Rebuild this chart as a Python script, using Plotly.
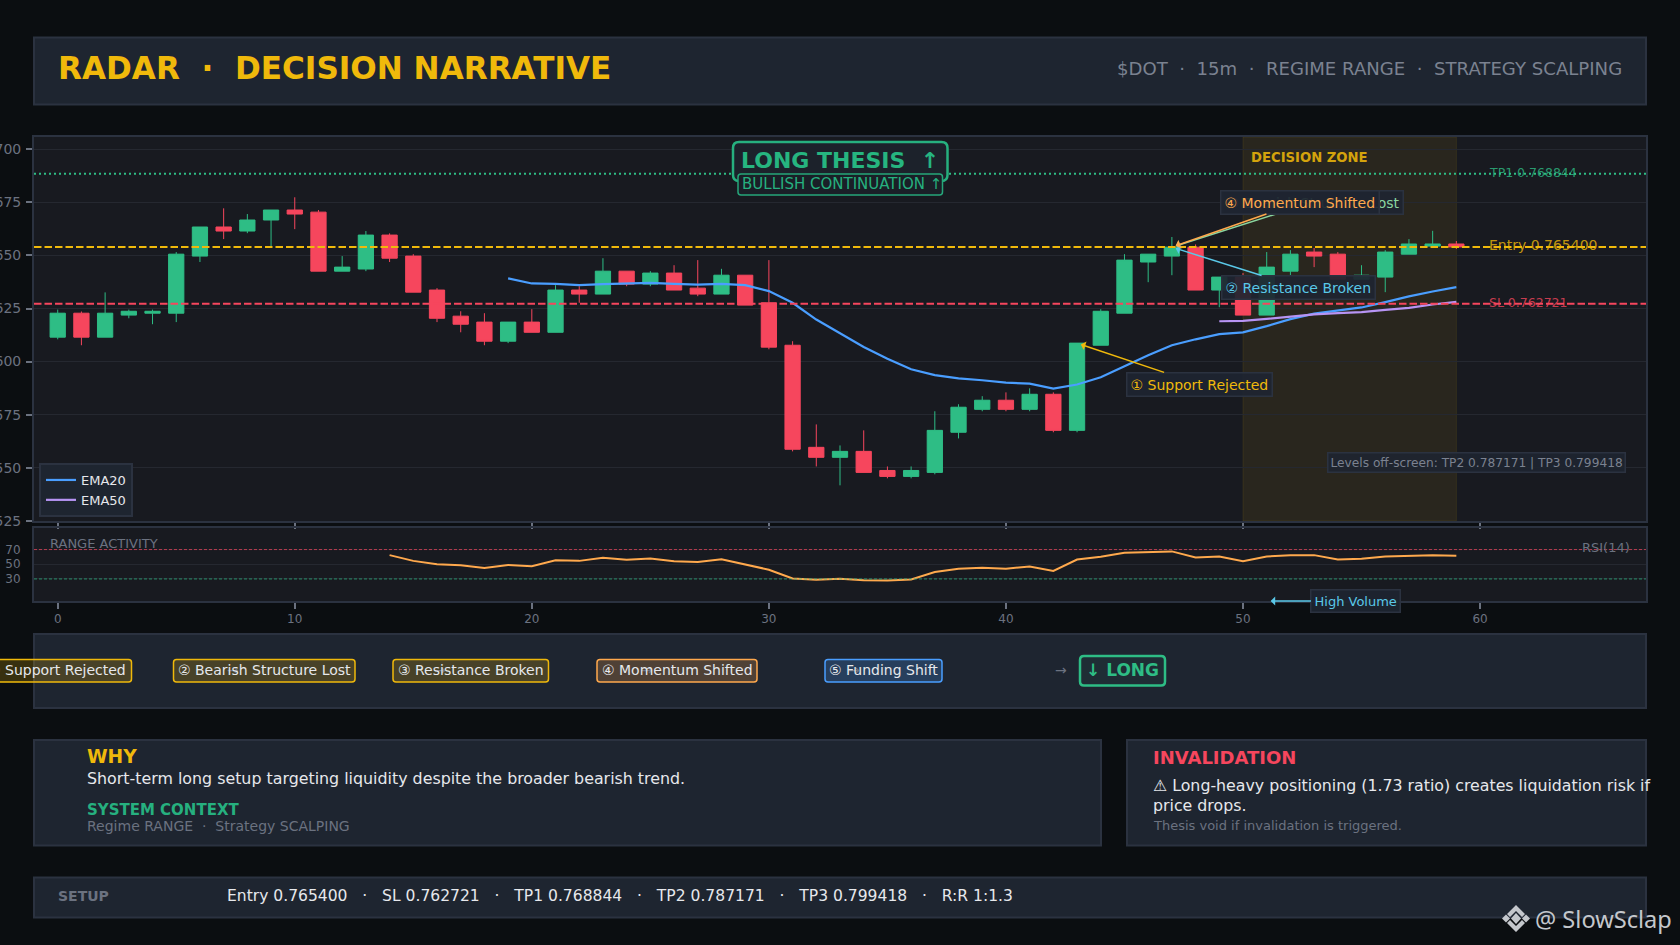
import plotly.graph_objects as go

W = 1680
H = 945

# candles
candle_open = [0.76115, 0.76228, 0.76115, 0.76219, 0.76228, 0.76228, 0.76497, 0.76634, 0.76615, 0.76667,
               0.76714, 0.76704, 0.76426, 0.76436, 0.76596, 0.76497, 0.76337, 0.76214, 0.76186, 0.76096,
               0.76186, 0.76138, 0.76337, 0.76318, 0.76426, 0.76365, 0.76417, 0.76346, 0.76318, 0.76407,
               0.76277, 0.76077, 0.75596, 0.75549, 0.75577, 0.75487, 0.75459, 0.75478, 0.75667, 0.75775,
               0.75818, 0.75775, 0.75846, 0.75676, 0.76077, 0.76228, 0.76469, 0.76497, 0.76539, 0.76337,
               0.76398, 0.76219, 0.76426, 0.76516, 0.76506, 0.76388, 0.76398, 0.76506, 0.76544, 0.76554]
candle_high = [0.76245, 0.76236, 0.76326, 0.76245, 0.76245, 0.76516, 0.76634, 0.76722, 0.76695, 0.76714,
               0.76774, 0.76714, 0.76497, 0.76615, 0.76604, 0.76506, 0.76346, 0.76237, 0.76228, 0.76186,
               0.76247, 0.7636, 0.76355, 0.76487, 0.76426, 0.76426, 0.76454, 0.76478, 0.76437, 0.76407,
               0.76478, 0.76096, 0.75704, 0.75605, 0.75676, 0.75506, 0.75506, 0.75766, 0.75799, 0.75837,
               0.75855, 0.75874, 0.75855, 0.76087, 0.76247, 0.76506, 0.76506, 0.76587, 0.76552, 0.76398,
               0.76417, 0.76516, 0.76525, 0.76535, 0.76516, 0.76454, 0.76525, 0.76577, 0.76616, 0.76568]
candle_low = [0.76105, 0.76077, 0.76115, 0.76204, 0.76176, 0.76186, 0.76469, 0.76577, 0.76605, 0.76535,
              0.76624, 0.76426, 0.76426, 0.76426, 0.76469, 0.76327, 0.76186, 0.76138, 0.76077, 0.76087,
              0.76138, 0.76138, 0.76277, 0.76318, 0.76355, 0.76355, 0.76337, 0.76308, 0.76318, 0.76266,
              0.76058, 0.75577, 0.75506, 0.75417, 0.75478, 0.7545, 0.7545, 0.75469, 0.75638, 0.75766,
              0.75766, 0.75766, 0.75667, 0.75667, 0.76077, 0.76228, 0.76374, 0.76407, 0.76337, 0.76256,
              0.76219, 0.76219, 0.76407, 0.76445, 0.76388, 0.76388, 0.76327, 0.76506, 0.76539, 0.7653]
candle_close = [0.76228, 0.76115, 0.76228, 0.76237, 0.76237, 0.76506, 0.76634, 0.76615, 0.76667, 0.76714,
                0.76695, 0.76426, 0.76445, 0.76596, 0.76487, 0.76327, 0.76204, 0.76176, 0.76096, 0.76186,
                0.76138, 0.76337, 0.76318, 0.76426, 0.76365, 0.76417, 0.76337, 0.76318, 0.76407, 0.76266,
                0.76068, 0.75587, 0.75549, 0.75577, 0.75478, 0.75459, 0.75487, 0.75676, 0.75785, 0.75818,
                0.75775, 0.75846, 0.75676, 0.76087, 0.76237, 0.76478, 0.76506, 0.76539, 0.76337, 0.76398,
                0.76219, 0.76445, 0.76506, 0.76497, 0.76388, 0.76407, 0.76516, 0.76554, 0.76554, 0.7654]
candle_x = list(range(60))

ema20_x = list(range(19, 60))
ema20 = [0.76392, 0.76368, 0.76366, 0.7636, 0.76365, 0.76368, 0.76371, 0.76366, 0.76363, 0.76366,
         0.7636, 0.76332, 0.76277, 0.76198, 0.76132, 0.76069, 0.76013, 0.75964, 0.75936, 0.75921,
         0.75912, 0.75901, 0.75896, 0.75873, 0.75892, 0.75926, 0.75978, 0.7603, 0.76077, 0.76105,
         0.76129, 0.76138, 0.76167, 0.762, 0.76226, 0.76241, 0.76255, 0.7628, 0.76307, 0.7633, 0.76351]
ema50_x = list(range(49, 60))
ema50 = [0.7619, 0.76192, 0.76201, 0.76211, 0.76222, 0.76228, 0.76233, 0.76244, 0.76253, 0.76269, 0.76281]

rsi_x = list(range(14, 60))
rsi = [62.4, 54.6, 50, 48.6, 44.9, 49.1, 47.2, 55.5, 54.6, 58.7, 56, 57.8, 54.1, 53.2, 56.9, 50,
       42.6, 30.7, 28.9, 30.2, 28.4, 27.9, 29.3, 39.4, 44, 45.4, 44, 46.8, 40.8, 56.4, 60.1, 65.6,
       66.1, 67.5, 59.2, 60.6, 54.1, 60.6, 62.4, 62.4, 56.4, 57.4, 60.6, 62, 62.4, 61.5]

entry = 0.7654
stop_loss = 0.762721
tp1 = 0.768844
zone_start = 50
zone_end = 59

BG = "#0b0e11"
PLOT = "#181a20"
PANEL = "#1e2530"
EDGE = "#2b3240"
GRID = "#252830"
GOLD = "#f0b90b"
GREEN = "#2ebd85"
RED = "#f6465d"
ORANGE = "#ffa94d"
BLUE = "#4a9eff"
CYAN = "#5ac8e8"
PURPLE = "#b794f4"
GREY = "#6b7280"
LIGHT = "#e6e8ec"
FONT = "DejaVu Sans"
SEP = "&nbsp;&nbsp;&nbsp;·&nbsp;&nbsp;&nbsp;"


def fx(px):
    return px / W


def fy(py):
    return 1 - py / H


def panel(x0, y0, x1, y1, fill=PANEL, edge=EDGE, lw=2):
    return dict(type="rect", xref="paper", yref="paper", x0=fx(x0), x1=fx(x1), y0=fy(y0), y1=fy(y1),
                fillcolor=fill, line=dict(color=edge, width=lw), layer="below")


def rounded(x0, y0, x1, y1, r, fill, edge, lw):
    # plotly has no rounded rect, so use a path
    p = (f"M {fx(x0 + r)},{fy(y0)} L {fx(x1 - r)},{fy(y0)} Q {fx(x1)},{fy(y0)} {fx(x1)},{fy(y0 + r)} "
         f"L {fx(x1)},{fy(y1 - r)} Q {fx(x1)},{fy(y1)} {fx(x1 - r)},{fy(y1)} "
         f"L {fx(x0 + r)},{fy(y1)} Q {fx(x0)},{fy(y1)} {fx(x0)},{fy(y1 - r)} "
         f"L {fx(x0)},{fy(y0 + r)} Q {fx(x0)},{fy(y0)} {fx(x0 + r)},{fy(y0)} Z")
    return dict(type="path", xref="paper", yref="paper", path=p, fillcolor=fill,
                line=dict(color=edge, width=lw), layer="above")


def poly(points, fill):
    p = "M " + " L ".join(f"{fx(a)},{fy(b)}" for a, b in points) + " Z"
    return dict(type="path", xref="paper", yref="paper", path=p, fillcolor=fill,
                line=dict(width=0), layer="above")


def label(text, px, py, size=14, color=LIGHT, anchor="left", bold=False, family=FONT):
    if bold:
        text = "<b>" + text + "</b>"
    return dict(text=text, xref="paper", yref="paper", x=fx(px), y=fy(py), xanchor=anchor, yanchor="middle",
                showarrow=False, font=dict(family=family, size=size, color=color))


def callout(text, x, y, ax, ay, color, xref="x", yref="y", size=14):
    return dict(text=text, xref=xref, yref=yref, x=x, y=y, ax=ax, ay=ay, axref="pixel", ayref="pixel",
                showarrow=True, arrowhead=1, arrowsize=1, arrowwidth=1.5, arrowcolor=color, standoff=4,
                font=dict(family=FONT, size=size, color=color), bgcolor="rgba(30,37,48,0.93)",
                bordercolor=EDGE, borderwidth=1.5, borderpad=3)


fig = go.Figure()
fig.add_trace(go.Candlestick(x=candle_x, open=candle_open, high=candle_high, low=candle_low, close=candle_close,
                             increasing=dict(line=dict(color=GREEN, width=1), fillcolor=GREEN),
                             decreasing=dict(line=dict(color=RED, width=1), fillcolor=RED),
                             showlegend=False, xaxis="x", yaxis="y"))
fig.add_trace(go.Scatter(x=ema20_x, y=ema20, mode="lines", name="EMA20", line=dict(color=BLUE, width=2.2),
                         xaxis="x", yaxis="y"))
fig.add_trace(go.Scatter(x=ema50_x, y=ema50, mode="lines", name="EMA50", line=dict(color=PURPLE, width=2.2),
                         xaxis="x", yaxis="y"))
fig.add_trace(go.Scatter(x=rsi_x, y=rsi, mode="lines", showlegend=False, line=dict(color=ORANGE, width=2),
                         xaxis="x2", yaxis="y2"))

shapes = [
    panel(34, 37.5, 1646, 104.5),
    panel(34, 634, 1646, 708),
    panel(34, 740, 1101, 845.5),
    panel(1127, 740, 1646, 845.5),
    panel(34, 877.5, 1646, 917.5),
    dict(type="rect", xref="x", yref="y domain", x0=zone_start, x1=zone_end, y0=0, y1=1,
         fillcolor="rgba(240,185,11,0.08)", line=dict(color="rgba(240,185,11,0.10)", width=1), layer="below"),
    dict(type="line", xref="x domain", yref="y", x0=0, x1=1, y0=tp1, y1=tp1,
         line=dict(color=GREEN, width=2, dash="2px,3px"), layer="above"),
    dict(type="line", xref="x domain", yref="y", x0=0, x1=1, y0=entry, y1=entry,
         line=dict(color=GOLD, width=2, dash="7.5px,3px"), layer="above"),
    dict(type="line", xref="x domain", yref="y", x0=0, x1=1, y0=stop_loss, y1=stop_loss,
         line=dict(color=RED, width=2, dash="7.5px,3px"), layer="above"),
    dict(type="line", xref="x2 domain", yref="y2", x0=0, x1=1, y0=70, y1=70,
         line=dict(color=RED, width=1, dash="3px,2px"), opacity=0.7),
    dict(type="line", xref="x2 domain", yref="y2", x0=0, x1=1, y0=30, y1=30,
         line=dict(color=GREEN, width=1, dash="3px,2px"), opacity=0.7),
    # thesis badge
    rounded(733, 142, 947.5, 181, 6, "#1c222b", "#26b07f", 2.5),
    rounded(738, 174, 942.5, 195, 3, "#1a1f27", "#26a67a", 1.5),
    # chain pills
    rounded(-21, 659.5, 131.5, 682, 3, "rgba(240,185,11,0.20)", GOLD, 1.5),
    rounded(173.5, 659.5, 355, 682, 3, "rgba(240,185,11,0.20)", GOLD, 1.5),
    rounded(393, 659.5, 548.5, 682, 3, "rgba(240,185,11,0.20)", GOLD, 1.5),
    rounded(597, 659.5, 757, 682, 3, "rgba(255,169,77,0.22)", ORANGE, 1.5),
    rounded(825, 659.5, 942, 682, 3, "rgba(74,158,255,0.22)", BLUE, 1.5),
    rounded(1080, 656, 1165, 685.5, 4, "rgba(46,189,133,0.06)", GREEN, 2.5),
    # exchange mark next to the handle
    poly([(1516, 913), (1521, 918.5), (1516, 924), (1511, 918.5)], "#c4c7cc"),
    poly([(1506, 914.5), (1510, 918.5), (1506, 922.5), (1502, 918.5)], "#c4c7cc"),
    poly([(1526, 914.5), (1530, 918.5), (1526, 922.5), (1522, 918.5)], "#c4c7cc"),
    poly([(1516, 905), (1525, 914), (1522, 917), (1516, 911), (1510, 917), (1507, 914)], "#c4c7cc"),
    poly([(1516, 932), (1525, 923), (1522, 920), (1516, 926), (1510, 920), (1507, 923)], "#c4c7cc"),
]

levels_note = label("Levels off-screen: TP2 0.787171 | TP3 0.799418", 1476, 462, 12.2, "#7b8290", anchor="center")
levels_note.update(bgcolor="rgba(30,37,48,0.9)", bordercolor=EDGE, borderwidth=1.5, borderpad=2)

annotations = [
    label("RADAR &nbsp;·&nbsp; DECISION NARRATIVE", 56, 68, 31.1, GOLD, bold=True),
    label("$DOT &nbsp;·&nbsp; 15m &nbsp;·&nbsp; REGIME RANGE &nbsp;·&nbsp; STRATEGY SCALPING", 1624, 69, 18.1,
          "#7b8290", anchor="right"),
    label("LONG THESIS &nbsp;↑", 739, 160, 22, "#26b580", bold=True),
    label("BULLISH CONTINUATION ↑", 740, 183.5, 15, "#26b07f"),
    label("DECISION ZONE", 1249, 157, 13.2, "#d4a30c", bold=True),
    label("TP1 0.768844", 1487, 173, 12.5, "rgba(46,189,133,0.8)"),
    label("Entry 0.765400", 1487, 245, 14, "rgba(240,185,11,0.8)"),
    label("SL 0.762721", 1487, 302, 12.5, "rgba(246,70,93,0.8)"),
    levels_note,
    label("RANGE ACTIVITY", 48, 543, 13, GREY),
    label("RSI(14)", 1632, 547, 13, GREY, anchor="right"),
    callout("① Support Rejected", 43, candle_high[43], 122, 41, GOLD),
    callout("② Bearish Structure Lost", 47, candle_close[47], 141, -45, "#8ad6a0"),
    callout("② Resistance Broken", 47, candle_close[47], 127, 40, CYAN),
    callout("④ Momentum Shifted", 47, candle_close[47], 128, -45, ORANGE),
    callout("High Volume", 51, 0, 89, 0, CYAN, xref="x2", yref="y2", size=13),
    label("→", 233, 670, 14, GREY, anchor="center"),
    label("→", 440, 670, 14, GREY, anchor="center"),
    label("→", 647, 670, 14, GREY, anchor="center"),
    label("→", 854, 670, 14, GREY, anchor="center"),
    label("→", 1061, 670, 14, GREY, anchor="center"),
    label("① Support Rejected", 57, 670, 14, LIGHT, anchor="center"),
    label("② Bearish Structure Lost", 264, 670, 14, LIGHT, anchor="center"),
    label("③ Resistance Broken", 471, 670, 14, LIGHT, anchor="center"),
    label("④ Momentum Shifted", 677, 670, 14, LIGHT, anchor="center"),
    label("⑤ Funding Shift", 883, 670, 14, LIGHT, anchor="center"),
    label("↓ LONG", 1122, 670, 17, GREEN, anchor="center", bold=True),
    label("WHY", 85, 756, 18.7, GOLD, bold=True),
    label("Short-term long setup targeting liquidity despite the broader bearish trend.", 85, 778.5, 15.85, LIGHT),
    label("SYSTEM CONTEXT", 85, 810, 15, "#26b07f", bold=True),
    label("Regime RANGE &nbsp;·&nbsp; Strategy SCALPING", 85, 826, 14, GREY),
    label("INVALIDATION", 1151, 757, 18, RED, bold=True),
    label("⚠ Long-heavy positioning (1.73 ratio) creates liquidation risk if", 1151, 785, 15.8, LIGHT),
    label("price drops.", 1151, 805, 15.8, LIGHT),
    label("Thesis void if invalidation is triggered.", 1151, 825.5, 13, GREY),
    label("SETUP", 56, 896, 14, GREY, bold=True),
    label("Entry 0.765400" + SEP + "SL 0.762721" + SEP + "TP1 0.768844" + SEP + "TP2 0.787171" + SEP
          + "TP3 0.799418" + SEP + "R:R 1:1.3", 225, 896, 15.55, LIGHT),
    label("@ SlowSclap", 1533, 919, 23.6, "#c4c7cc", family="Noto Sans"),
]

fig.update_layout(
    width=W, height=H,
    margin=dict(l=0, r=0, t=0, b=0, autoexpand=False),
    paper_bgcolor=BG,
    plot_bgcolor=PLOT,
    font=dict(family=FONT, size=13, color=GREY),
    showlegend=True,
    hovermode=False,
    boxgroupgap=0.08,
    legend=dict(x=fx(39), y=fy(517), xanchor="left", yanchor="bottom", bgcolor=PANEL, bordercolor=EDGE, borderwidth=2,
                font=dict(family=FONT, size=13, color=LIGHT), itemwidth=30),
    xaxis=dict(domain=[fx(34), fx(1646)], anchor="y", range=[-1, 67], dtick=10, tick0=0, showticklabels=False,
               rangeslider=dict(visible=False), showgrid=False, zeroline=False, ticks="outside", ticklen=6, tickwidth=2,
               tickcolor=GREY, showline=True, mirror=True, linecolor=EDGE, linewidth=2, automargin=False),
    yaxis=dict(domain=[fy(521), fy(137)], anchor="x", range=[0.75249, 0.77058], dtick=0.0025, tick0=0.75,
               tickformat=".4f", showgrid=True, gridcolor=GRID, gridwidth=1, zeroline=False, ticks="outside",
               ticklen=6, tickwidth=2, tickcolor=GREY, tickfont=dict(size=14, color=GREY), ticklabelstandoff=2,
               showline=True, mirror=True, linecolor=EDGE, linewidth=2, automargin=False),
    xaxis2=dict(domain=[fx(34), fx(1646)], anchor="y2", range=[-1, 67], dtick=10, tick0=0, matches="x", showgrid=False,
                zeroline=False, ticks="outside", ticklen=6, tickwidth=1.5, tickcolor=GREY,
                tickfont=dict(size=12, color=GREY), showline=True, mirror=True, linecolor=EDGE, linewidth=2,
                automargin=False),
    yaxis2=dict(domain=[fy(601), fy(527.5)], anchor="x2", range=[0, 100], tickvals=[30, 50, 70], showgrid=True,
                gridcolor=GRID, zeroline=False, ticks="outside", ticklen=6, tickcolor="rgba(0,0,0,0)",
                tickfont=dict(size=12, color=GREY), ticklabelstandoff=3, showline=True, mirror=True, linecolor=EDGE,
                linewidth=2, automargin=False),
    shapes=shapes,
    annotations=annotations,
)

fig.write_html("out.html", config={"displayModeBar": False},
               post_script="document.body.style.margin='0';document.body.style.background='#0b0e11';")
